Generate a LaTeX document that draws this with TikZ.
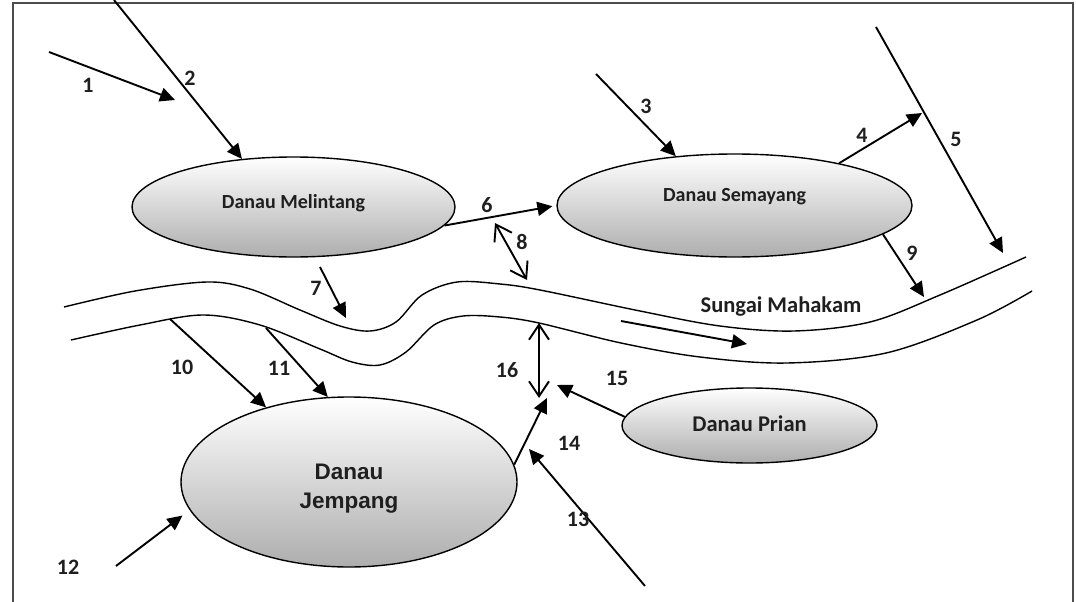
\documentclass[tikz,border=0pt]{standalone}
\usepackage{fontspec}
\setmainfont{Carlito}
\newfontfamily\arialf{Liberation Sans}
\usetikzlibrary{arrows.meta,shapes.geometric,calc}
\tikzset{
  arr/.style={line width=1.9pt, -{Triangle[length=15pt,width=14pt]}},
  dbl/.style={line width=1.9pt, {Straight Barb[length=15pt,width=20pt]}-{Straight Barb[length=15pt,width=20pt]}},
  num/.style={font=\fontsize{22}{26}\selectfont\bfseries, text=black!88, inner sep=0pt},
  bank/.style={line width=1.4pt},
  lake/.style={ellipse, draw, line width=1.4pt, top color=white, bottom color=black!32,
    inner sep=0pt, font=\fontsize{20}{24}\selectfont\bfseries, text=black!88},
  frame/.style={line width=1.6pt, draw=black!70},
}
\begin{document}
\begin{tikzpicture}[x=1pt,y=-1pt]
\useasboundingbox (0,0) rectangle (1076,602);
\draw[frame] (13,602) -- (13,3) -- (1073,3) -- (1073,602);

% lakes
\node[lake, minimum width=323pt, minimum height=100pt, text height=16pt, text depth=13pt] (mel) at (293.5,207) {Danau Melintang};
\node[lake, minimum width=355pt, minimum height=103pt, text height=16pt, text depth=24pt] (sem) at (734.5,205.5) {Danau Semayang};
\node[lake, minimum width=255pt, minimum height=75pt, font=\fontsize{22.5}{27}\selectfont\bfseries, text height=18pt, text depth=6pt] (pri) at (749.5,425.5) {Danau Prian};
\node[lake, minimum width=336pt, minimum height=170pt, align=center, font=\arialf\fontsize{22.5}{29}\selectfont\bfseries] (jem) at (349,482) {\rule{0pt}{28pt}Danau\\Jempang};

% river
\draw[bank] plot[smooth, tension=0.55] coordinates {(64,307) (135,291) (207,282) (250,289) (300,310) (340,326) (370,331) (396,322) (422,295) (457,282) (500,284) (540,290) (640,311) (720,326) (794,331) (870,322) (940,295) (1026,257)};
\draw[bank] plot[smooth, tension=0.55] coordinates {(71,340) (140,325) (203,315) (260,325) (320,349) (352,362) (380,365) (406,352) (434,325) (463,316) (500,317) (539,323) (621,343) (700,357) (787,363) (886,353) (977,320) (1032,291)};
\node[font=\fontsize{22.5}{27}\selectfont\bfseries, text=black!88, inner sep=0pt] (riv) at (781,307) {Sungai Mahakam};

% free ends
\coordinate (s1) at (49,52);   \coordinate (e1) at (175,100);
\coordinate (s2) at (114,0);
\coordinate (s3) at (596,74);
\coordinate (e4) at (922,113);
\coordinate (s5) at (876,27);  \coordinate (e5) at (1003,253);
\coordinate (s7) at (320,267); \coordinate (e7) at (346,318);
\coordinate (a8) at (495,223); \coordinate (b8) at (527,280);
\coordinate (e9) at (924,297);
\coordinate (s10) at (170,319);
\coordinate (s11) at (266,328);
\coordinate (s12) at (116,566);
\coordinate (s13) at (645,586); \coordinate (e13) at (529,449);
\coordinate (e14) at (547,398);
\coordinate (e15) at (557,385);
\coordinate (a16) at (539,323); \coordinate (b16) at (539,398);
\coordinate (fa) at (621,321); \coordinate (fb) at (747,344);

% arrows
\draw[arr] (s1) -- (e1);
\draw[arr] (s2) -- (mel.137);
\draw[arr] (s3) -- (sem.140);
\draw[arr] (sem.22) -- (e4);
\draw[arr] (s5) -- (e5);
\draw[arr, shorten >=4pt] (mel.-7) -- (sem.180);
\draw[arr] (s7) -- (e7);
\draw[dbl] (a8) -- (b8);
\draw[arr] (sem.-11) -- (e9);
\draw[arr] (s10) -- (jem.138);
\draw[arr] (s11) -- (jem.104);
\draw[arr, shorten >=9pt] (s12) -- (jem.190);
\draw[arr] (s13) -- (e13);
\draw[arr] (jem.6) -- (e14);
\draw[arr] (pri.176) -- (e15);
\draw[dbl] (a16) -- (b16);
\draw[arr] (fa) -- (fb);

% labels
\node[num] (l1) at (88,85) {1};
\node[num] (l2) at (190,78) {2};
\node[num] (l3) at (646,106) {3};
\node[num] (l4) at (862,135) {4};
\node[num] (l5) at (956,139) {5};
\node[num] (l6) at (487,205) {6};
\node[num] (l7) at (316,288) {7};
\node[num] (l8) at (522,242) {8};
\node[num] (l9) at (912,253) {9};
\node[num] (l10) at (182,367) {10};
\node[num] (l11) at (279,368) {11};
\node[num] (l12) at (68,567) {12};
\node[num] (l13) at (578,519) {13};
\node[num] (l14) at (569,443) {14};
\node[num] (l15) at (617,378) {15};
\node[num] (l16) at (507,370) {16};
\end{tikzpicture}
\end{document}
